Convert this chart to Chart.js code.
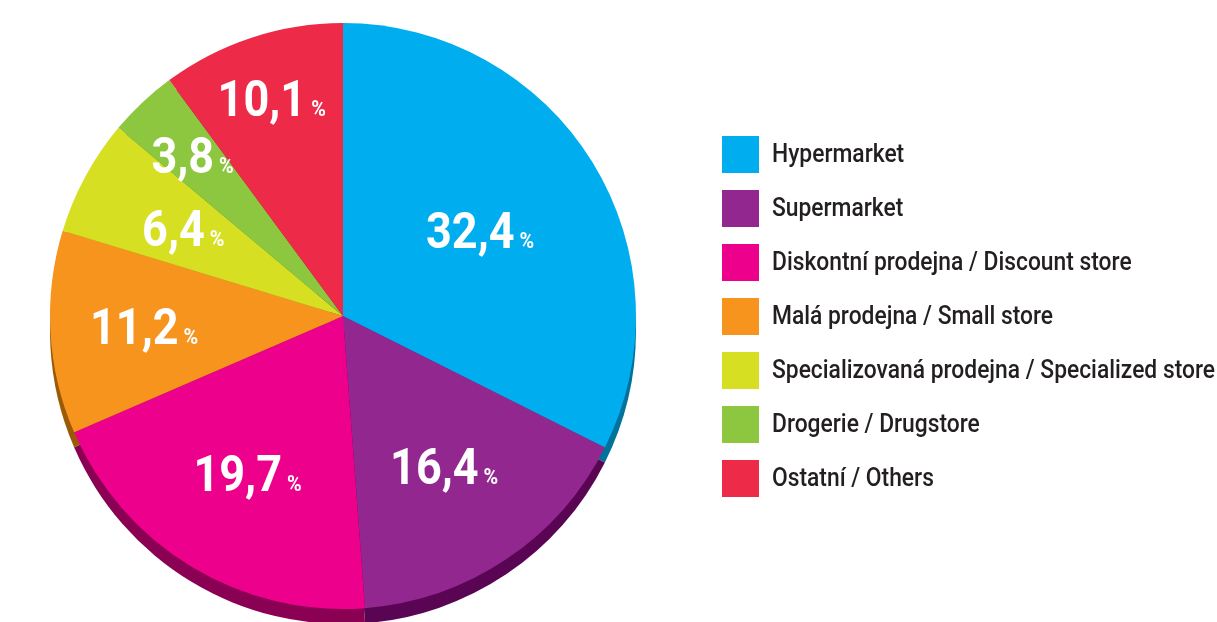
<!DOCTYPE html>
<html>
<head>
<meta charset="utf-8">
<script src="https://cdn.jsdelivr.net/npm/chart.js@4"></script>
<style>
    html, body { margin: 0; padding: 0; background: #fff; }
    #wrap { width: 1217px; height: 622px; position: relative; }
</style>
</head>
<body>
<div id="wrap"><canvas id="pie-chart"></canvas></div>
<script>
(function () {
    "use strict";

    const categories = [
        "Hypermarket",
        "Supermarket",
        "Diskontní prodejna / Discount store",
        "Malá prodejna / Small store",
        "Specializovaná prodejna / Specialized store",
        "Drogerie / Drugstore",
        "Ostatní / Others",
    ];
    const shares = [32.4, 16.4, 19.7, 11.2, 6.4, 3.8, 10.1];

    const colors = ["#00aeef", "#92278f", "#ec008c", "#f7941d", "#d7df23", "#8dc63f", "#ed2a48"];
    const sideColors = ["#00729b", "#5a0454", "#8a0052", "#9a5a06", "#8a8f10", "#5a8a22", "#9a1a2e"];
    // how far out the value label sits (fraction of radius)
    const labelRadius = [0.55, 0.62, 0.63, 0.68, 0.62, 0.75, 0.78];

    const FONT = "Roboto, 'Liberation Sans', sans-serif";
    const DEPTH = 15;

    // 3D side of the pie: same arcs, shifted down and darker
    const pieDepth = {
        id: "pieDepth",
        beforeDatasetsDraw(chart) {
            const ctx = chart.ctx;
            const arcs = chart.getDatasetMeta(0).data;
            ctx.save();
            ctx.translate(0, DEPTH);
            arcs.forEach((arc, i) => {
                const p = arc.getProps(["x", "y", "startAngle", "endAngle", "outerRadius"], true);
                ctx.beginPath();
                ctx.moveTo(p.x, p.y);
                ctx.arc(p.x, p.y, p.outerRadius, p.startAngle, p.endAngle);
                ctx.closePath();
                ctx.fillStyle = sideColors[i];
                ctx.fill();
            });
            ctx.restore();
        },
    };

    // squeezed text to imitate a condensed face
    function narrowText(ctx, text, x, y, sx) {
        ctx.save();
        ctx.translate(x, y);
        ctx.scale(sx, 1);
        ctx.fillText(text, 0, 0);
        ctx.restore();
    }

    // value labels "32,4 %" inside the slices
    const valueLabels = {
        id: "valueLabels",
        afterDatasetsDraw(chart) {
            const ctx = chart.ctx;
            const arcs = chart.getDatasetMeta(0).data;
            const sx = 0.9;
            ctx.save();
            ctx.fillStyle = "#ffffff";
            ctx.textBaseline = "alphabetic";
            ctx.textAlign = "left";
            arcs.forEach((arc, i) => {
                const p = arc.getProps(["x", "y", "startAngle", "endAngle", "outerRadius"], true);
                const mid = (p.startAngle + p.endAngle) / 2;
                const r = p.outerRadius * labelRadius[i];
                const cx = p.x + Math.cos(mid) * r;
                const cy = p.y + Math.sin(mid) * r;
                const num = shares[i].toFixed(1).replace(".", ",");
                ctx.font = "bold 50px " + FONT;
                const w1 = ctx.measureText(num).width * sx;
                ctx.font = "bold 22px " + FONT;
                const w2 = ctx.measureText("%").width * sx;
                const gap = 5;
                const left = cx - (w1 + gap + w2) / 2;
                const base = cy + 17;
                ctx.font = "bold 50px " + FONT;
                narrowText(ctx, num, left, base, sx);
                ctx.font = "bold 22px " + FONT;
                narrowText(ctx, "%", left + w1 + gap, base, sx);
            });
            ctx.restore();
        },
    };

    // legend on the right
    const sideLegend = {
        id: "sideLegend",
        afterDraw(chart) {
            const ctx = chart.ctx;
            const x = 722, y0 = 136, box = 37, step = 54;
            ctx.save();
            ctx.font = "500 25px " + FONT;
            ctx.textBaseline = "middle";
            ctx.textAlign = "left";
            const widest = Math.max(...chart.data.labels.map((l) => ctx.measureText(l).width));
            const sx = Math.min(1, 443 / widest);
            chart.data.labels.forEach((label, i) => {
                const y = y0 + i * step;
                ctx.fillStyle = colors[i];
                ctx.fillRect(x, y, box, box);
                ctx.fillStyle = "#231f20";
                narrowText(ctx, label, x + box + 13, y + box / 2 + 1, sx);
            });
            ctx.restore();
        },
    };

    new Chart(document.getElementById("pie-chart"), {
        type: "pie",
        data: {
            labels: categories,
            datasets: [
                {
                    data: shares,
                    backgroundColor: colors,
                    borderWidth: 0,
                },
            ],
        },
        options: {
            responsive: true,
            maintainAspectRatio: false,
            animation: false,
            layout: {
                padding: { left: 50, right: 581, top: 23, bottom: 13 },
            },
            plugins: {
                legend: { display: false },
                tooltip: { enabled: false },
            },
        },
        plugins: [pieDepth, valueLabels, sideLegend],
    });
})();
</script>
</body>
</html>
